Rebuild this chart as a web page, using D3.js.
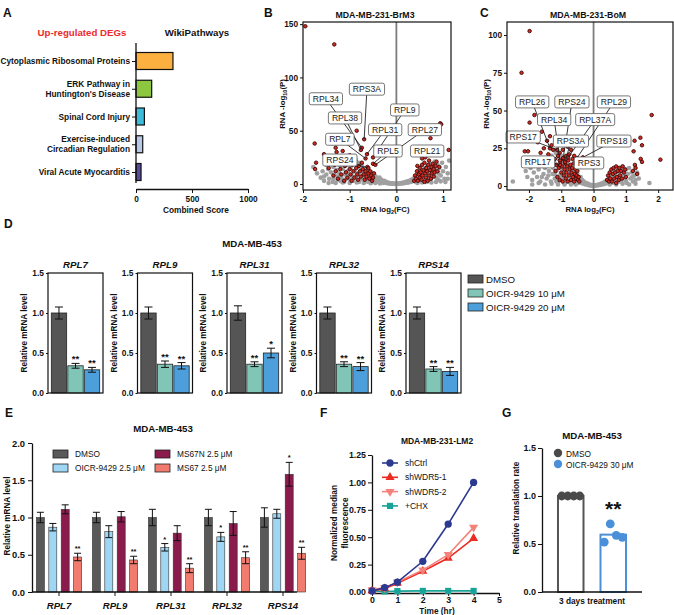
<!DOCTYPE html>
<html><head><meta charset="utf-8">
<script src="https://cdn.jsdelivr.net/npm/d3@7"></script>
<style>body{margin:0;background:#fff}</style>
</head><body><svg id="c" width="674" height="615"></svg>
<script>
// ================= DATA =================
// Panel A
const pathways = ["Cytoplasmic Ribosomal Proteins","ERK Pathway in|Huntington's Disease","Spinal Cord Injury","Exercise-induced|Circadian Regulation","Viral Acute Myocarditis"];
const combinedScore = [330,140,75,60,45];
const pathwayColors = ["#FBB040","#8DC63F","#3DBBD8","#B8C9E8","#5A4A9E"];
const scoreTicks = [0,500,1000];

// Panel B (volcano, MDA-MB-231-BrM3): [log2FC, -log10P]
const grayB = [[-1.62,6],[-1.58,12],[-1.55,3],[-1.5,9],[-1.5,18],[-1.46,14],[-1.44,5],[-1.4,22],[-1.4,11],[-1.36,2],[-1.35,16],[-1.32,8],[-1.3,20],[-1.28,13],[-1.26,4],[-1.24,24],[-1.22,10],[-1.2,17],[-1.18,6],[-1.16,21],[-1.14,14],[-1.12,2],[-1.1,9],[-1.08,26],[-1.06,18],[-1.04,12],[-1.02,5],[-1.0,22],[-0.98,15],[-0.96,8],[-0.94,19],[-0.92,3],[-0.9,12],[-0.88,24],[-0.86,7],[-0.84,16],[-0.82,10],[-0.8,20],[-0.78,4],[-0.76,13],[-0.74,18],[-0.72,8],[-0.7,11],[-0.68,2],[-0.66,15],[-0.64,6],[-0.62,10],[-0.6,13],[-0.58,4],[-0.56,8],[-0.54,11],[-0.52,2],[-0.5,6],[-0.48,9],[-0.46,4],[-0.44,7],[-0.42,2],[-0.4,5],[-0.38,3],[-0.36,6],[-0.34,1.5],[-0.32,4],[-0.3,2.5],[-0.28,1],[-0.26,3],[-0.24,1.5],[-0.22,2],[-0.2,0.8],[-0.18,1.5],[-0.16,0.6],[-0.14,1],[-0.12,0.4],[-0.1,0.8],[-0.08,0.3],[-0.06,0.5],[-0.04,0.2],[-0.02,0.4],[0,0.1],
 [-1.45,1],[-1.3,1],[-1.15,1.5],[-1.0,1],[-0.85,1.5],[-0.7,1],[-0.55,0.8],[-0.45,1],[-0.35,0.5],[-1.1,4],[-0.95,4],[-0.8,2],[-0.65,4],[-1.2,3],[-1.35,5],[-1.55,7],[-1.7,10],[-1.78,16],[-1.05,8],[-0.9,6],[-0.75,6],[-0.6,2],[-1.25,7],
 [0.02,0.3],[0.04,0.5],[0.06,0.3],[0.08,0.8],[0.1,0.5],[0.12,1.2],[0.14,0.6],[0.16,1.5],[0.18,1],[0.2,2],[0.22,1.2],[0.24,2.5],[0.26,1.5],[0.28,3],[0.3,2],[0.32,4],[0.34,2.5],[0.36,5],[0.38,3],[0.4,7],[0.42,2],[0.44,9],[0.46,5],[0.48,11],[0.5,3],[0.52,8],[0.54,13],[0.56,6],[0.58,10],[0.6,15],[0.62,4],[0.64,12],[0.66,17],[0.68,8],[0.7,14],[0.72,19],[0.74,5],[0.76,11],[0.78,16],[0.8,9],[0.82,21],[0.84,13],[0.86,6],[0.88,18],[0.9,10],[0.92,15],[0.95,8],[0.98,20],[1.0,12],[1.03,5],[1.06,16],[1.1,10],[1.13,22],
 [0.45,1],[0.55,1.5],[0.65,2],[0.75,1.5],[0.85,2],[0.95,2.5],[1.05,2],[0.7,4],[0.9,4],[1.1,5]];
const redB = [[-1.95,148],[-1.33,131],[-1.75,38],[-1.72,20],[-1.74,14],[-1.55,28],[-1.5,24],[-1.45,15],[-1.38,22],[-1.35,8],[-1.32,18],[-1.3,12],[-1.25,5],[-1.22,20],[-1.2,14],[-1.18,9],[-1.15,24],[-1.12,3],[-1.1,17],[-1.08,11],[-1.05,6],[-1.03,20],[-1.0,14],[-0.98,9],[-0.96,3],[-0.94,18],[-0.92,12],[-0.9,6],[-0.88,22],[-0.86,15],[-0.84,9],[-0.82,4],[-0.8,17],[-0.78,12],[-0.76,7],[-0.74,20],[-0.72,14],[-0.7,9],[-0.68,4],[-0.66,12],[-0.64,7],[-0.62,16],[-0.6,10],[-0.58,5],[-0.56,12],[-0.54,8],[-0.52,3],[-0.5,6],[-0.48,10],[-1.0,27],[-1.28,30],[-1.15,31],[-0.95,25],
 [-0.69,42],[-0.74,34],[-0.76,32],[-0.63,28],[-0.66,24],[-0.5,25],[-0.5,19],[-0.6,15],[-0.45,18],[-0.85,50],[-1.3,34],
 [0.38,3],[0.4,8],[0.42,5],[0.44,12],[0.46,3],[0.48,9],[0.5,15],[0.5,6],[0.52,11],[0.54,4],[0.55,18],[0.56,8],[0.58,13],[0.6,2],[0.6,20],[0.62,10],[0.63,6],[0.64,15],[0.66,12],[0.67,3],[0.68,18],[0.7,8],[0.7,22],[0.72,13],[0.74,5],[0.75,16],[0.76,10],[0.78,19],[0.8,7],[0.8,14],[0.82,11],[0.84,17],[0.86,21],[0.88,12],[0.92,16],[0.94,57],[0.96,56],[0.73,43],[1.12,32],[0.55,24],[0.62,25],[0.45,17]];
const labelsB = ["RPS3A","RPL34","RPL9","RPL38","RPL31","RPL27","RPL7","RPL5","RPL21","RPS24"];
const labelBoxB = [[-0.63,89],[-1.51,80],[0.18,69.5],[-1.1,62],[-0.24,51],[0.61,51],[-1.21,42],[-0.18,31],[0.66,31],[-1.21,22.5]];
const labelPtB = [[-0.69,42],[-0.74,34],[-0.5,25],[-0.76,32],[-0.63,28],[-0.45,18],[-0.66,24],[-0.5,19],[0.66,25],[-0.6,15]];
const xTicksB = [-2,-1,0,1], yTicksB = [0,50,100,150];

// Panel C (volcano, MDA-MB-231-BoM)
const grayC = [[-2.5,3],[-2.1,10],[-2.05,6],[-1.95,12],[-1.9,4],[-1.85,9],[-1.8,14],[-1.75,6],[-1.7,11],[-1.65,3],[-1.6,16],[-1.55,8],[-1.5,12],[-1.45,5],[-1.42,18],[-1.38,10],[-1.35,14],[-1.32,3],[-1.3,20],[-1.27,8],[-1.25,12],[-1.22,16],[-1.2,5],[-1.17,22],[-1.15,10],[-1.12,14],[-1.1,3],[-1.08,18],[-1.05,7],[-1.02,12],[-1.0,20],[-0.98,4],[-0.95,15],[-0.92,9],[-0.9,13],[-0.88,2],[-0.85,17],[-0.82,6],[-0.8,11],[-0.78,14],[-0.75,3],[-0.72,8],[-0.7,12],[-0.67,5],[-0.65,9],[-0.62,2],[-0.6,7],[-0.57,10],[-0.55,4],[-0.52,6],[-0.5,8],[-0.47,2],[-0.45,5],[-0.42,3.5],[-0.4,6],[-0.37,2],[-0.35,4],[-0.32,1.5],[-0.3,3],[-0.27,2],[-0.25,1],[-0.22,2],[-0.2,1],[-0.17,1.5],[-0.15,0.6],[-0.12,1],[-0.1,0.4],[-0.07,0.6],[-0.05,0.3],[-0.02,0.2],[0,0.1],
 [-1.9,1],[-1.7,2],[-1.5,1],[-1.3,1.5],[-1.1,1],[-0.9,1],[-0.7,1],[-0.55,1],[-1.6,6],[-1.4,7],[-1.2,8],[-1.0,6],[-0.85,4],[-1.15,3],[-0.95,9],
 [0.03,0.3],[0.06,0.5],[0.09,0.4],[0.12,0.8],[0.15,0.5],[0.18,1.2],[0.21,0.8],[0.24,1.6],[0.27,1],[0.3,2.2],[0.33,1.4],[0.36,3],[0.39,1.8],[0.42,4],[0.45,2.5],[0.48,5.5],[0.51,3],[0.54,7],[0.57,2],[0.6,8],[0.63,4],[0.66,10],[0.69,6],[0.72,9],[0.75,3],[0.78,12],[0.81,7],[0.84,10],[0.87,4],[0.9,13],[0.93,8],[0.96,5],[1.0,11],[1.03,2],[1.06,8],[1.1,12],[1.14,5],[1.18,9],[1.22,3],[1.26,7],[1.3,4],[1.35,9],[1.4,5],[1.73,2],[0.5,1],[0.7,1],[0.9,1.5],[1.1,1],[1.3,1.5],[0.8,3],[1.0,3.5],[1.2,6]];
const redC = [[-1.98,102.6],[-2.23,75],[-1.83,47],[-1.98,42],[1.8,47],[2.07,17.5],
 [-2.13,23],[-2.03,23],[-1.73,29],[-1.64,22],[-1.54,25],[-1.44,30],[-1.35,33],[-1.6,36],[-1.5,18],[-1.4,21],[-1.3,27],[-1.25,24],
 [-1.2,18],[-1.18,10],[-1.15,14],[-1.12,6],[-1.1,20],[-1.08,12],[-1.05,4],[-1.03,16],[-1.0,9],[-0.98,13],[-0.96,3],[-0.94,18],[-0.92,7],[-0.9,11],[-0.88,15],[-0.86,5],[-0.84,9],[-0.82,13],[-0.8,3],[-0.78,17],[-0.76,7],[-0.74,11],[-0.72,14],[-0.7,4],[-0.68,9],[-0.66,12],[-0.64,6],[-0.62,15],[-0.6,3],[-0.58,8],[-0.56,11],[-0.54,5],[-0.52,7],[-0.5,10],[-0.48,4],[-0.46,6],[-0.44,3],[-1.05,22],[-0.85,20],[-0.75,21],[-0.65,18],[-0.95,24],[-0.8,26],[-0.7,24],[-0.6,20],
 [-1.35,25],[-0.94,18.6],[-0.51,18.6],[-1.04,17],[-0.79,19],[-1.13,24],[-0.88,16],[-0.33,19],[-1.04,14],[-0.5,14],
 [0.42,4],[0.45,7],[0.48,3],[0.5,9],[0.52,5],[0.55,11],[0.57,3],[0.6,8],[0.62,12],[0.64,5],[0.67,9],[0.7,2],[0.7,13],[0.72,6],[0.75,10],[0.78,4],[0.8,12],[0.82,7],[0.85,10],[0.88,5],[0.9,13],[0.94,9],[0.98,11],[1.0,6],
 [1.45,32],[1.5,27],[1.27,30],[1.24,23],[1.46,18],[1.5,16],[1.28,14],[1.3,12],[1.22,10],[1.35,8]];
const labelsC = ["RPL26","RPS24","RPL29","RPL34","RPL37A","RPS17","RPS3A","RPS18","RPL17","RPS3"];
const labelBoxC = [[-1.9,55.7],[-0.67,55.7],[0.63,55.7],[-1.22,44],[0.05,44],[-2.18,32.5],[-0.7,29.8],[0.63,29.8],[-1.72,16],[-0.14,15.3]];
const labelPtC = [[-1.35,25],[-0.94,18.6],[-0.51,18.6],[-1.04,17],[-0.79,19],[-1.13,24],[-0.88,16],[-0.33,19],[-1.04,14],[-0.5,14]];
const xTicksC = [-2,-1,0,1,2], yTicksC = [0,25,50,75,100];

// Panel D
const dGenes = ["RPL7","RPL9","RPL31","RPL32","RPS14"];
const dTreat = ["DMSO","OICR-9429 10 μM","OICR-9429 20 μM"];
const dMeans = [[1.0,0.34,0.29],[1.0,0.36,0.34],[1.0,0.36,0.50],[1.0,0.36,0.33],[1.0,0.30,0.27]];
const dErr = [[0.075,0.03,0.03],[0.075,0.04,0.04],[0.09,0.03,0.06],[0.075,0.03,0.05],[0.075,0.03,0.05]];
const dStars = [["","**","**"],["","**","**"],["","**","*"],["","**","**"],["","**","**"]];
const dColors = ["#555555","#80C5B5","#4C9FDA"];
const dTicks = [0,0.5,1.0,1.5];

// Panel E
const eGenes = ["RPL7","RPL9","RPL31","RPL32","RPS14"];
const eTreat = ["DMSO","OICR-9429 2.5 μM","MS67N 2.5 μM","MS67 2.5 μM"];
const eMeans = [[1.0,0.87,1.11,0.47],[1.0,0.81,1.01,0.43],[1.0,0.60,0.79,0.32],[1.0,0.74,0.92,0.46],[1.0,1.05,1.58,0.52]];
const eErr = [[0.07,0.05,0.06,0.05],[0.07,0.08,0.07,0.05],[0.11,0.05,0.10,0.06],[0.11,0.06,0.16,0.08],[0.13,0.06,0.16,0.08]];
const eStars = [["","","","**"],["","","","**"],["","*","","**"],["","*","","**"],["","","*","**"]];
const eColors = ["#595959","#9ED6F4","#8A1B4C","#F27B6F"];
const eTicks = [0,0.5,1.0,1.5,2.0];

// Panel F
const fTime = [0,0.5,1,2,3,4];
const fSeries = ["shCtrl","shWDR5-1","shWDR5-2","+CHX"];
const fCtrl = [0.01,0.04,0.09,0.28,0.62,1.00];
const fWDR1 = [0.01,0.03,0.08,0.19,0.31,0.49];
const fWDR2 = [0.02,0.04,0.09,0.20,0.34,0.59];
const fCHX = [0.01,0.005,0.008,0.01,0.01,0.01];
const fColors = ["#2B3990","#EC2B24","#F4827A","#17A398"];
const fSymbols = ["circle","triUp","triDown","square"];
const fXTicks = [0,1,2,3,4,5], fYTicks = [0,0.25,0.5,0.75,1.0,1.25];

// Panel G
const gGroups = ["DMSO","OICR-9429  30 μM"];
const gDMSO = [1.0,1.0,1.0,1.0];
const gOICR = [0.52,0.71,0.59,0.57];
const gColors = ["#4A4A4A","#4A90D9"];
const gTicks = [0,0.5,1.0,1.5];

// ================= DRAWING =================
const FONT = "Arial, 'Liberation Sans', Helvetica, sans-serif";
const INK = "#111";
const intFmt = d => String(d);
const svg = d3.select("#c").attr("font-family", FONT);
svg.append("rect").attr("width",674).attr("height",615).attr("fill","#fff");

function T(x,y,s,o={}){
  const t = svg.append("text").attr("x",x).attr("y",y).text(s)
    .attr("font-size",o.fs||9).attr("font-weight",o.fw||"bold")
    .attr("text-anchor",o.anchor||"middle").attr("fill",o.fill||INK)
    .attr("font-style",o.fi||"normal");
  if(o.rot) t.attr("transform",`rotate(-90,${x},${y})`);
  return t;
}
function styleAxis(g, fs, fw){
  g.attr("font-family",FONT).attr("font-size",fs||8.3).attr("font-weight",fw||"bold");
  g.selectAll("text").attr("fill",INK);
  g.selectAll(".tick line").attr("stroke",INK).attr("stroke-width",1);
  g.selectAll("path.domain").attr("stroke",INK).attr("stroke-width",1.3);
}

// Panel labels
[["A",3,17],["B",264,17],["C",480,17],["D",4,228],["E",5,417],["F",320,417],["G",502,417]]
  .forEach(p=>T(p[1],p[2],p[0],{fs:12,anchor:"start"}));

// ---------- Panel A ----------
{
  const xA = d3.scaleLinear().domain([0,1000]).range([136,248]);
  const yA = d3.scalePoint().domain(pathways).range([61,172]);
  T(82,36,"Up-regulated DEGs",{fs:9.7,fill:"#EE2A2A"});
  T(197,36,"WikiPathways",{fs:9.7});
  svg.append("g").selectAll("rect").data(pathways).join("rect")
    .attr("x",xA(0)).attr("y",d=>yA(d)-8.5)
    .attr("width",(d,i)=>xA(combinedScore[i])-xA(0)).attr("height",17)
    .attr("fill",(d,i)=>pathwayColors[i]).attr("stroke",INK).attr("stroke-width",1.2);
  const ay = svg.append("g").attr("transform","translate(136,0)")
    .call(d3.axisLeft(yA).tickSize(4).tickFormat(""));
  ay.select(".domain").remove(); styleAxis(ay);
  svg.append("line").attr("x1",136).attr("x2",136).attr("y1",43).attr("y2",183).attr("stroke",INK).attr("stroke-width",1.3);
  pathways.forEach(p=>{
    const lines = p.split("|");
    lines.forEach((ln,li)=>{
      const off = (li-(lines.length-1)/2)*10;
      T(130,yA(p)+off+3,ln,{fs:8.3,anchor:"end"});
    });
  });
  const ax = svg.append("g").attr("transform","translate(0,189)")
    .call(d3.axisBottom(xA).tickValues(scoreTicks).tickFormat(intFmt).tickSize(4).tickSizeOuter(0).tickPadding(3));
  styleAxis(ax);
  T(196,213,"Combined Score",{fs:8.3});
}

// ---------- Volcano helper ----------
function volcano(cfg){
  const x = d3.scaleLinear().domain(cfg.xd).range([cfg.l,cfg.r]);
  const y = d3.scaleLinear().domain(cfg.yd).range([cfg.b,cfg.t]);
  const cid = "clip"+cfg.id;
  svg.append("clipPath").attr("id",cid).append("rect")
    .attr("x",cfg.l).attr("y",cfg.t).attr("width",cfg.r-cfg.l).attr("height",cfg.b-cfg.t);
  const g = svg.append("g").attr("clip-path",`url(#${cid})`);
  g.selectAll("circle.g").data(cfg.gray).join("circle").attr("class","g")
    .attr("cx",d=>x(d[0])).attr("cy",d=>y(d[1])).attr("r",2.3).attr("fill","#a0a0a0");
  g.append("line").attr("x1",x(0)).attr("x2",x(0)).attr("y1",cfg.t).attr("y2",cfg.b)
    .attr("stroke","#7d7d7d").attr("stroke-width",1.8);
  g.selectAll("circle.r").data(cfg.red).join("circle").attr("class","r")
    .attr("cx",d=>x(d[0])).attr("cy",d=>y(d[1])).attr("r",1.75)
    .attr("fill","#D42A20").attr("stroke","#3a0808").attr("stroke-width",0.9);
  // labels
  const lg = svg.append("g");
  cfg.labels.forEach((lab,i)=>{
    const bx = x(cfg.box[i][0]), by = y(cfg.box[i][1]);
    const px = x(cfg.pt[i][0]), py = y(cfg.pt[i][1]);
    lg.append("line").attr("x1",bx).attr("y1",by).attr("x2",px).attr("y2",py)
      .attr("stroke","#222").attr("stroke-width",0.9);
  });
  cfg.labels.forEach((lab,i)=>{
    const bx = x(cfg.box[i][0]), by = y(cfg.box[i][1]);
    const gg = lg.append("g");
    const rect = gg.append("rect");
    const t = gg.append("text").attr("x",bx).attr("y",by+3).attr("text-anchor","middle")
      .attr("font-size",8.6).attr("fill","#222").text(lab);
    const w = t.node().getComputedTextLength()+7;
    rect.attr("x",bx-w/2).attr("y",by-6).attr("width",w).attr("height",12).attr("rx",2)
      .attr("fill","#fff").attr("stroke","#555").attr("stroke-width",0.8);
  });
  svg.append("rect").attr("x",cfg.l).attr("y",cfg.t).attr("width",cfg.r-cfg.l).attr("height",cfg.b-cfg.t)
    .attr("fill","none").attr("stroke",INK).attr("stroke-width",1.2);
  const ay = svg.append("g").attr("transform",`translate(${cfg.l},0)`)
    .call(d3.axisLeft(y).tickValues(cfg.yt).tickFormat(intFmt).tickSize(3).tickPadding(2));
  ay.select(".domain").remove(); styleAxis(ay,8.3);
  const ax = svg.append("g").attr("transform",`translate(0,${cfg.b})`)
    .call(d3.axisBottom(x).tickValues(cfg.xt).tickFormat(intFmt).tickSize(3).tickPadding(3));
  ax.select(".domain").remove(); styleAxis(ax,8.3);
  T((cfg.l+cfg.r)/2 - 2,18,cfg.title,{fs:8.8});
  const xt = T(cfg.xl,212,"RNA log",{fs:7.8});
  xt.append("tspan").attr("font-size",5.5).attr("dy",2).text("2");
  xt.append("tspan").attr("dy",-2).text("(FC)");
  const yt = T(cfg.l-18,104,"RNA -log",{fs:7.8,rot:true});
  yt.append("tspan").attr("font-size",5.5).attr("dy",2).text("10");
  yt.append("tspan").attr("dy",-2).text("(P)");
}
volcano({id:"B",xd:[-2,1.17],yd:[-5.6,152],l:303,r:451,t:22,b:190,gray:grayB,red:redB,
  labels:labelsB,box:labelBoxB,pt:labelPtB,xt:xTicksB,yt:yTicksB,title:"MDA-MB-231-BrM3",xl:385});
volcano({id:"C",xd:[-2.68,2.46],yd:[-2.6,108.6],l:507,r:673,t:22,b:190,gray:grayC,red:redC,
  labels:labelsC,box:labelBoxC,pt:labelPtC,xt:xTicksC,yt:yTicksC,title:"MDA-MB-231-BoM",xl:590});

// ---------- Panel D ----------
T(252,247,"MDA-MB-453",{fs:9.7});
dGenes.forEach((gene,gi)=>{
  const left = 48 + gi*89.5, right = left+55;
  const yD = d3.scaleLinear().domain([0,1.5]).range([393,273]);
  const xD = d3.scaleBand().domain(dTreat).range([left,right]).paddingInner(0.07).paddingOuter(0.2);
  T((left+right)/2,268,gene,{fs:9.7,fi:"italic"});
  const g = svg.append("g");
  g.selectAll("rect").data(dTreat).join("rect")
    .attr("x",d=>xD(d)).attr("width",xD.bandwidth())
    .attr("y",(d,i)=>yD(dMeans[gi][i])).attr("height",(d,i)=>yD(0)-yD(dMeans[gi][i]))
    .attr("fill",(d,i)=>dColors[i]).attr("stroke","#222").attr("stroke-width",0.8);
  dTreat.forEach((d,i)=>{
    const cx = xD(d)+xD.bandwidth()/2, m=dMeans[gi][i], e=dErr[gi][i];
    const eg = g.append("g").attr("stroke","#111").attr("stroke-width",1);
    eg.append("line").attr("x1",cx).attr("x2",cx).attr("y1",yD(m+e)).attr("y2",yD(m-e));
    eg.append("line").attr("x1",cx-4).attr("x2",cx+4).attr("y1",yD(m+e)).attr("y2",yD(m+e));
    eg.append("line").attr("x1",cx-4).attr("x2",cx+4).attr("y1",yD(m-e)).attr("y2",yD(m-e));
    if(dStars[gi][i]) T(cx,yD(m+e)-1,dStars[gi][i],{fs:9.5});
  });
  svg.append("rect").attr("x",left).attr("y",273).attr("width",55).attr("height",120)
    .attr("fill","none").attr("stroke",INK).attr("stroke-width",1.2);
  const ay = svg.append("g").attr("transform",`translate(${left},0)`)
    .call(d3.axisLeft(yD).tickValues(dTicks).tickFormat(d3.format(".1f")).tickSize(2).tickPadding(2));
  ay.select(".domain").remove(); styleAxis(ay,8.4);
  T(left-21,333,"Relative mRNA level",{fs:8.2,rot:true});
});
dTreat.forEach((d,i)=>{
  svg.append("rect").attr("x",468).attr("y",275+i*14).attr("width",15).attr("height",8)
    .attr("fill",dColors[i]).attr("stroke","#222").attr("stroke-width",0.8);
  T(486,283+i*14,d,{fs:9.7,fw:"normal",anchor:"start"});
});

// ---------- Panel E ----------
{
  T(163,432,"MDA-MB-453",{fs:9.7});
  const yE = d3.scaleLinear().domain([0,2]).range([592,443]);
  const xE = d3.scaleBand().domain(eGenes).range([31,311]);
  const xs = d3.scaleBand().domain(eTreat).range([0,xE.bandwidth()]).paddingInner(0.355).paddingOuter(0.435);
  eGenes.forEach((gene,gi)=>{
    const g = svg.append("g").attr("transform",`translate(${xE(gene)},0)`);
    g.selectAll("rect").data(eTreat).join("rect")
      .attr("x",d=>xs(d)).attr("width",xs.bandwidth())
      .attr("y",(d,i)=>yE(eMeans[gi][i])).attr("height",(d,i)=>yE(0)-yE(eMeans[gi][i]))
      .attr("fill",(d,i)=>eColors[i]).attr("stroke","#333").attr("stroke-width",0.6);
    eTreat.forEach((d,i)=>{
      const cx = xE(gene)+xs(d)+xs.bandwidth()/2, m=eMeans[gi][i], e=eErr[gi][i];
      const eg = svg.append("g").attr("stroke","#111").attr("stroke-width",1);
      eg.append("line").attr("x1",cx).attr("x2",cx).attr("y1",yE(m+e)).attr("y2",yE(m-e));
      eg.append("line").attr("x1",cx-3.5).attr("x2",cx+3.5).attr("y1",yE(m+e)).attr("y2",yE(m+e));
      eg.append("line").attr("x1",cx-3.5).attr("x2",cx+3.5).attr("y1",yE(m-e)).attr("y2",yE(m-e));
      if(eStars[gi][i]) T(cx,yE(m+e)-2,eStars[gi][i],{fs:7.5});
    });
  });
  const ay = svg.append("g").attr("transform","translate(32,0)")
    .call(d3.axisLeft(yE).tickValues(eTicks).tickFormat(d3.format(".1f")).tickSize(4).tickSizeOuter(0).tickPadding(3));
  styleAxis(ay,9.4);
  const ax = svg.append("g").attr("transform","translate(0,592)")
    .call(d3.axisBottom(xE).tickSize(4).tickSizeOuter(0).tickPadding(6));
  ax.select(".domain").remove(); styleAxis(ax,9.6);
  ax.selectAll("text").attr("font-style","italic");
  svg.append("line").attr("x1",32).attr("x2",297).attr("y1",592).attr("y2",592).attr("stroke",INK).attr("stroke-width",1.3);
  T(10,516,"Relative mRNA  level",{fs:8.2,rot:true});
  const lx = [53,155], ly = [454,468];
  eTreat.forEach((d,i)=>{
    const col = (i<2)?0:1, row = i%2;
    svg.append("rect").attr("x",lx[col]).attr("y",ly[row]-4).attr("width",15).attr("height",8)
      .attr("fill",eColors[i]).attr("stroke","#222").attr("stroke-width",0.8);
    T(lx[col]+22,ly[row]+3,d,{fs:8.3,fw:"normal",anchor:"start"});
  });
}

// ---------- Panel F ----------
{
  T(437,444,"MDA-MB-231-LM2",{fs:8.5});
  const xF = d3.scaleLinear().domain([0,5]).range([372,499]);
  const yF = d3.scaleLinear().domain([0,1.25]).range([592,455]);
  const series = [fCtrl,fWDR1,fWDR2,fCHX];
  const sym = {circle:d3.symbolCircle, triUp:d3.symbolTriangle, triDown:d3.symbolTriangle, square:d3.symbolSquare};
  const drawSym = (g,type,x,y,col)=>{
    g.append("path").attr("d",d3.symbol(sym[type], type==="circle"?42:type==="square"?38:36)())
      .attr("transform",`translate(${x},${y})${type==="triDown"?" rotate(180)":""}`).attr("fill",col);
  };
  const ay = svg.append("g").attr("transform","translate(372,0)")
    .call(d3.axisLeft(yF).tickValues(fYTicks).tickFormat(d3.format(".2f")).tickSize(4).tickSizeOuter(0).tickPadding(2));
  styleAxis(ay,8.8);
  const ax = svg.append("g").attr("transform","translate(0,593)")
    .call(d3.axisBottom(xF).tickValues(fXTicks).tickFormat(intFmt).tickSize(3).tickSizeOuter(0).tickPadding(1));
  styleAxis(ax,8.8);
  const line = d3.line().x((d,i)=>xF(fTime[i])).y(d=>yF(d));
  [3,1,2,0].forEach(si=>{
    const g = svg.append("g");
    g.append("path").attr("d",line(series[si])).attr("fill","none").attr("stroke",fColors[si]).attr("stroke-width",1.6);
    series[si].forEach((v,i)=>drawSym(g,fSymbols[si],xF(fTime[i]),yF(v),fColors[si]));
  });
  fSeries.forEach((s,i)=>{
    const yy = 463+i*14.3;
    const g = svg.append("g");
    g.append("line").attr("x1",382).attr("x2",398).attr("y1",yy).attr("y2",yy).attr("stroke",fColors[i]).attr("stroke-width",1.6);
    drawSym(g,fSymbols[i],390,yy,fColors[i]);
    T(405,yy+3,s,{fs:8.5,fw:"normal",anchor:"start"});
  });
  T(437,614,"Time (hr)",{fs:8.3});
  T(337,523,"Normalized median",{fs:8.3,rot:true});
  T(348,523,"fluorescence",{fs:8.3,rot:true});
}

// ---------- Panel G ----------
{
  T(592,439,"MDA-MB-453",{fs:9.7});
  const yG = d3.scaleLinear().domain([0,1.5]).range([592,448]);
  const xG = d3.scaleBand().domain(gGroups).range([542,642]).paddingInner(0.4).paddingOuter(0.376);
  const pts = [gDMSO,gOICR];
  gGroups.forEach((grp,gi)=>{
    const m = d3.mean(pts[gi]);
    svg.append("rect").attr("x",xG(grp)).attr("width",xG.bandwidth()).attr("y",yG(m)).attr("height",yG(0)-yG(m))
      .attr("fill","none").attr("stroke",gi===0?"#555":gColors[1]).attr("stroke-width",2);
    const cx = xG(grp)+xG.bandwidth()/2;
    svg.append("g").selectAll("circle").data(pts[gi]).join("circle")
      .attr("cx",(d,i)=>cx+(i-1.5)*6).attr("cy",d=>yG(d)).attr("r",4.4).attr("fill",gColors[gi]);
  });
  T(xG(gGroups[1])+xG.bandwidth()/2,516,"**",{fs:21});
  const ay = svg.append("g").attr("transform","translate(542,0)")
    .call(d3.axisLeft(yG).tickValues(gTicks).tickFormat(d3.format(".1f")).tickSize(4).tickSizeOuter(0).tickPadding(2));
  styleAxis(ay,9);
  svg.append("line").attr("x1",542).attr("x2",642).attr("y1",592).attr("y2",592).attr("stroke",INK).attr("stroke-width",1.3);
  T(592,604,"3 days treatment",{fs:8.3});
  T(519,508,"Relative translation rate",{fs:8.2,rot:true});
  gGroups.forEach((grp,i)=>{
    svg.append("circle").attr("cx",558).attr("cy",453+i*11).attr("r",4.2).attr("fill",gColors[i]);
    T(566,456.5+i*11,grp,{fs:8.3,fw:"normal",anchor:"start"});
  });
}
</script></body></html>
